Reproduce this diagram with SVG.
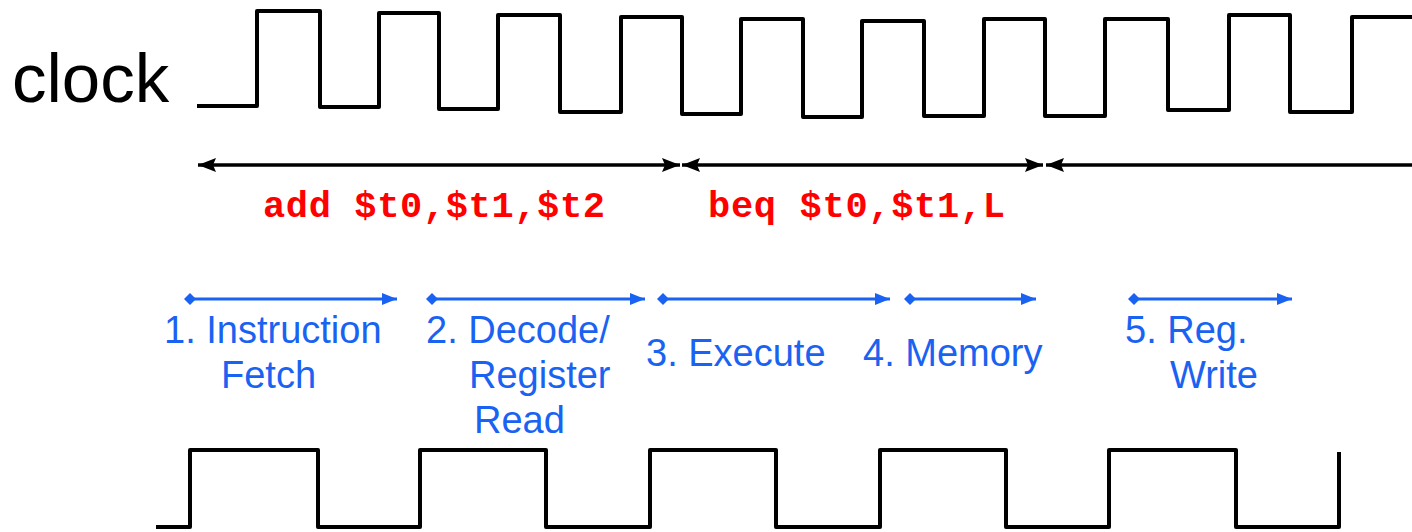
<svg xmlns="http://www.w3.org/2000/svg" width="1412" height="532" viewBox="0 0 1412 532">
<defs>
<style>
.wave{fill:none;stroke:#000;stroke-width:4;stroke-linejoin:round}
.blk{stroke:#000;stroke-width:3.5;fill:none}
.blu{stroke:#1a62f2;stroke-width:3;fill:none}
.lbl{font-family:"Liberation Sans",Arial,sans-serif;font-size:38px;fill:#1a62f2}
.code{font-family:"Liberation Mono","Courier New",monospace;font-weight:bold;font-size:37px;fill:#ff0000}
</style>
<marker id="ah" viewBox="0 0 18 14" refX="18" refY="7" markerWidth="18" markerHeight="14" markerUnits="userSpaceOnUse" orient="auto-start-reverse">
<path d="M0,0 L18,7 L0,14 L3,7 Z" fill="#000"/>
</marker>
<marker id="bh" viewBox="0 0 15 12" refX="15" refY="6" markerWidth="15" markerHeight="12" markerUnits="userSpaceOnUse" orient="auto">
<path d="M0,0 L15,6 L0,12 Z" fill="#1a62f2"/>
</marker>
<marker id="bd" viewBox="0 0 12 12" refX="6" refY="6" markerWidth="12" markerHeight="12" markerUnits="userSpaceOnUse">
<path d="M0,6 L6,0 L12,6 L6,12 Z" fill="#1a62f2"/>
</marker>
</defs>
<rect width="1412" height="532" fill="#fff"/>
<g id="clock-label">
<text x="12" y="102" style="font-family:'Liberation Sans',Arial,sans-serif;font-size:69px;fill:#000">clock</text>
</g>
<g id="clock-top">
<path class="wave" d="M197 106 H257 V11 H320 V107 H379 V13 H439 V109 H498 V15 H560 V112 H621 V17 H682 V114 H741 V19 H803 V117 H862 V21 H924 V116 H984 V19 H1045 V116 H1105 V19 H1168 V110 H1229 V15 H1290 V112 H1352 V17 H1414"/>
</g>
<g id="clock-bottom">
<path class="wave" d="M156 527 H190 V450 H318 V527 H420 V450 H546 V527 H650 V450 H776 V527 H880 V450 H1006 V527 H1109 V450 H1236 V527 H1339 V452"/>
</g>
<g id="connectors">
<line class="blk" x1="198" y1="165" x2="680" y2="165" marker-start="url(#ah)" marker-end="url(#ah)"/>
<line class="blk" x1="682" y1="165" x2="1043" y2="165" marker-start="url(#ah)" marker-end="url(#ah)"/>
<line class="blk" x1="1046" y1="165" x2="1414" y2="165" marker-start="url(#ah)"/>
<line class="blu" x1="190" y1="299" x2="397" y2="299" marker-start="url(#bd)" marker-end="url(#bh)"/>
<line class="blu" x1="432" y1="299" x2="645" y2="299" marker-start="url(#bd)" marker-end="url(#bh)"/>
<line class="blu" x1="663" y1="299" x2="890" y2="299" marker-start="url(#bd)" marker-end="url(#bh)"/>
<line class="blu" x1="910" y1="299" x2="1036" y2="299" marker-start="url(#bd)" marker-end="url(#bh)"/>
<line class="blu" x1="1134" y1="299" x2="1292" y2="299" marker-start="url(#bd)" marker-end="url(#bh)"/>
</g>
<g id="instr-add"><text class="code" x="263" y="217" textLength="342">add $t0,$t1,$t2</text></g>
<g id="instr-beq"><text class="code" x="708" y="217" textLength="297">beq $t0,$t1,L</text></g>
<g id="stage-1"><text class="lbl" x="164" y="343">1. Instruction</text><text class="lbl" x="221" y="388">Fetch</text></g>
<g id="stage-2"><text class="lbl" x="426" y="343">2. Decode/</text><text class="lbl" x="469" y="388">Register</text><text class="lbl" x="474" y="433">Read</text></g>
<g id="stage-3"><text class="lbl" x="646" y="366">3. Execute</text></g>
<g id="stage-4"><text class="lbl" x="863" y="366">4. Memory</text></g>
<g id="stage-5"><text class="lbl" x="1125" y="343">5. Reg.</text><text class="lbl" x="1170" y="388">Write</text></g>
</svg>
